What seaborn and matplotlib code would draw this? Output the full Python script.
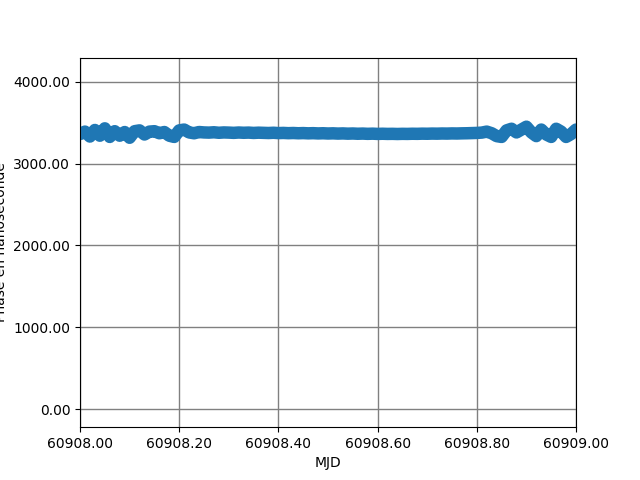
import matplotlib
matplotlib.use("Agg")
import matplotlib.pyplot as plt
import numpy as np
import pandas as pd
import seaborn as sns
from matplotlib.ticker import FormatStrFormatter

# Données (MJD, phase en ns)
mjd_start = 60908.0
mjd = mjd_start + np.linspace(0.0, 1.0, 101)
phase_ns = [
    3360, 3390, 3330, 3410, 3340, 3430, 3325, 3395, 3340, 3385,
    3315, 3395, 3405, 3355, 3390, 3395, 3370, 3385, 3340, 3325,
    3405, 3415, 3380, 3370, 3385, 3380, 3378, 3382, 3376, 3380,
    3378, 3375, 3379, 3376, 3378, 3374, 3377, 3375, 3373, 3376,
    3372, 3374, 3371, 3373, 3370, 3372, 3369, 3371, 3368, 3370,
    3367, 3369, 3366, 3368, 3365, 3367, 3364, 3366, 3363, 3365,
    3362, 3364, 3362, 3363, 3361, 3363, 3362, 3364, 3363, 3365,
    3364, 3366, 3365, 3367, 3366, 3368, 3367, 3369, 3370, 3372,
    3374, 3378, 3390, 3370, 3335, 3325, 3405, 3425, 3380, 3415,
    3450, 3380, 3335, 3415, 3355, 3325, 3425, 3390, 3325, 3360,
    3415,
]

df = pd.DataFrame({"MJD": mjd, "Phase": phase_ns})

fig, ax = plt.subplots(figsize=(6.4, 4.8), dpi=100)
sns.lineplot(data=df, x="MJD", y="Phase", ax=ax, color="#1f77b4",
             linewidth=9, solid_joinstyle="round", solid_capstyle="round")

ax.set_xlim(60908.0, 60909.0)
ax.set_ylim(-220, 4294)
ax.set_xticks([60908.0, 60908.2, 60908.4, 60908.6, 60908.8, 60909.0])
ax.set_yticks([0, 1000, 2000, 3000, 4000])
ax.xaxis.set_major_formatter(FormatStrFormatter("%.2f"))
ax.yaxis.set_major_formatter(FormatStrFormatter("%.2f"))
ax.grid(True, color="gray", linewidth=1)
ax.set_axisbelow(True)
ax.set_xlabel("MJD")
ax.set_ylabel("Phase en nanoseconde")

plt.savefig("out.png", dpi=100)
plt.close()
